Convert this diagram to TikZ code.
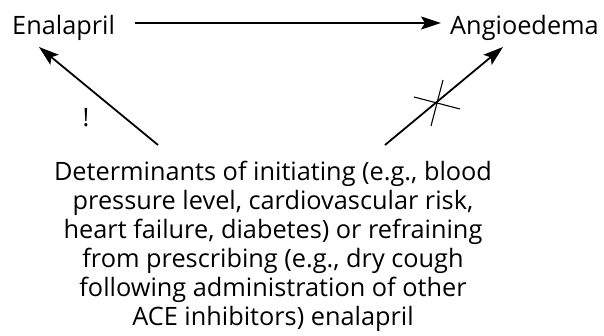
\documentclass[tikz,border=0pt]{standalone}
\usepackage{fontspec}
\setmainfont{Open Sans}
\usetikzlibrary{arrows.meta}
\begin{document}
\begin{tikzpicture}[x=1pt,y=-1pt,
  lbl/.style={inner sep=0pt, font=\fontsize{25.3}{29}\selectfont},
  arr/.style={line width=1.8pt, -{Stealth[length=20pt,width=13pt,inset=4pt]}},
  crossline/.style={line width=1.1pt}]
\useasboundingbox (0,0) rectangle (604,336);
\node[lbl, anchor=base west] (en) at (12,35) {Enalapril};
\node[lbl, anchor=base west] (an) at (450,35) {Angioedema};
\node[lbl, anchor=north, align=center] (det) at (273,161)
  {Determinants of initiating (e.g., blood\\
   pressure level, cardiovascular risk,\\
   heart failure, diabetes) or refraining\\
   from prescribing (e.g., dry cough\\
   following administration of other\\
   ACE inhibitors) enalapril};
\node[lbl] (ex) at (86,118) {!};
\coordinate (t1) at (158,145);
\coordinate (h1) at (39,47);
\coordinate (t2) at (385,145);
\coordinate (h2) at (503,47);
\coordinate (c1a) at (414,97);
\coordinate (c1b) at (460,109);
\coordinate (c2a) at (443,80);
\coordinate (c2b) at (431,126);
\draw[arr] (en.east |- 0,23) ++(20,0) -- ([xshift=-9pt]an.west |- 0,23);
\draw[arr] (t1) -- (h1);
\draw[arr] (t2) -- (h2);
\draw[crossline] (c1a) -- (c1b);
\draw[crossline] (c2a) -- (c2b);
\end{tikzpicture}
\end{document}
